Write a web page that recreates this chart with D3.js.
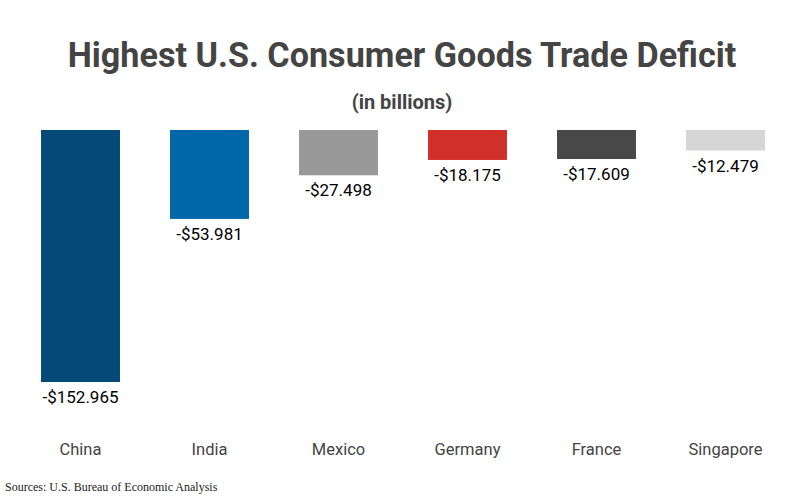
<!DOCTYPE html>
<html lang="en">
<head>
    <meta charset="UTF-8">
    <script src="https://d3js.org/d3.v7.min.js"></script>
    <title>Trade Deficit</title>
    <style>
        body { margin: 0; background: #fff; }
        svg { display: block; }
    </style>
</head>
<body>
    <div id="chart"></div>
    <script>
        // Data
        const countries = ["China", "India", "Mexico", "Germany", "France", "Singapore"];
        const deficits = [152.965, 53.981, 27.498, 18.175, 17.609, 12.479];
        const barColors = ["#044a78", "#0067aa", "#999999", "#d1302a", "#484848", "#d6d6d6"];

        const width = 800, height = 500;
        const svg = d3.select("#chart").append("svg")
            .attr("width", width)
            .attr("height", height);

        // Title (slightly condensed to match the original)
        svg.append("text")
            .attr("x", 0).attr("y", 0)
            .attr("transform", "translate(402,67) scale(0.976,1)")
            .attr("text-anchor", "middle")
            .attr("font-family", "Roboto")
            .attr("font-weight", "bold")
            .attr("font-size", 35)
            .attr("fill", "#444")
            .text("Highest U.S. Consumer Goods Trade Deficit");

        svg.append("text")
            .attr("x", 402).attr("y", 109)
            .attr("text-anchor", "middle")
            .attr("font-family", "Roboto")
            .attr("font-weight", "bold")
            .attr("font-size", 20)
            .attr("fill", "#444")
            .text("(in billions)");

        const x = d3.scaleBand()
            .domain(countries)
            .range([16, 790])
            .paddingInner(0.388)
            .paddingOuter(0.194);

        const y = d3.scaleLinear()
            .domain([0, 152.965])
            .range([130, 382]);

        const data = countries.map((c, i) => ({ name: c, value: deficits[i], color: barColors[i] }));

        svg.selectAll("rect.bar")
            .data(data)
            .enter()
            .append("rect")
            .attr("class", "bar")
            .attr("x", d => x(d.name))
            .attr("y", y(0))
            .attr("width", x.bandwidth())
            .attr("height", d => y(d.value) - y(0))
            .attr("fill", d => d.color);

        svg.selectAll("text.value")
            .data(data)
            .enter()
            .append("text")
            .attr("class", "value")
            .attr("x", d => x(d.name) + x.bandwidth() / 2)
            .attr("y", d => y(d.value) + 21)
            .attr("text-anchor", "middle")
            .attr("font-family", "Roboto")
            .attr("font-size", 17)
            .attr("fill", "#000")
            .text(d => "-$" + d3.format(".3f")(d.value));

        // Category axis (no line, no ticks)
        const xAxis = svg.append("g")
            .attr("transform", "translate(0,440)")
            .call(d3.axisBottom(x).tickSize(0).tickPadding(0));
        xAxis.select(".domain").remove();
        xAxis.selectAll("text")
            .attr("dy", "0.9em")
            .attr("font-family", "Roboto")
            .attr("font-size", 16.5)
            .attr("fill", "#444");

        svg.append("text")
            .attr("x", 5).attr("y", 491)
            .attr("font-family", "Liberation Serif, Times New Roman, serif")
            .attr("font-size", 12)
            .attr("fill", "#222")
            .text("Sources: U.S. Bureau of Economic Analysis");
    </script>
</body>
</html>
